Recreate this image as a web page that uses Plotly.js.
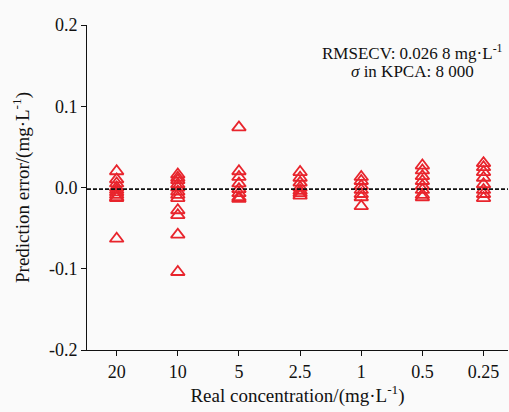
<!DOCTYPE html>
<html>
<head>
<meta charset="utf-8">
<script src="https://cdn.plot.ly/plotly-3.0.1.min.js"></script>
<style>html,body{margin:0;padding:0;background:#fafafa;}</style>
</head>
<body>
<div id="chart" style="width:509px;height:412px;"></div>
<script>
const categories = ["20", "10", "5", "2.5", "1", "0.5", "0.25"];
const err20 = [0.020, 0.010, 0.005, 0.000, -0.003, -0.006, -0.009, -0.012, -0.013, -0.063];
const err10 = [0.016, 0.012, 0.009, 0.004, 0.000, -0.005, -0.009, -0.013, -0.028, -0.034, -0.058, -0.104];
const err5 = [0.074, 0.020, 0.013, 0.005, -0.002, -0.007, -0.012, -0.014];
const err2_5 = [0.019, 0.012, 0.006, 0.000, -0.004, -0.007, -0.010];
const err1 = [0.013, 0.008, 0.002, -0.003, -0.008, -0.012, -0.023];
const err0_5 = [0.027, 0.021, 0.014, 0.008, 0.002, -0.003, -0.009, -0.012];
const err0_25 = [0.030, 0.025, 0.019, 0.012, 0.004, -0.003, -0.008, -0.013];
const meanLine = -0.002;
const yTickVals = [-0.2, -0.1, 0.0, 0.1, 0.2];
const yTickText = ["-0.2", "-0.1", "0.0", "0.1", "0.2"];

const groups = [err20, err10, err5, err2_5, err1, err0_5, err0_25];
const xs = [], ys = [];
groups.forEach((g, i) => g.forEach(v => { xs.push(categories[i]); ys.push(v); }));

const font = "Liberation Serif";
const traces = [
  {
    x: [-0.485, 6.4], y: [meanLine, meanLine], xaxis: 'x2', type: 'scatter', mode: 'lines',
    line: {color: '#111', width: 1.6, dash: '4px,2px'}, hoverinfo: 'skip', showlegend: false
  },
  {
    x: xs, y: ys, type: 'scatter', mode: 'markers',
    marker: {symbol: 'triangle-up-open', size: 12, color: '#e8242c', line: {width: 1.8, color: '#e8242c'}},
    showlegend: false
  }
];
const layout = {
  width: 509, height: 412,
  margin: {l: 87, r: 1, t: 25, b: 62},
  paper_bgcolor: '#fafafa', plot_bgcolor: '#fafafa',
  font: {family: font, size: 18, color: '#111'},
  xaxis: {
    type: 'category', categoryorder: 'array', categoryarray: categories,
    range: [-0.485, 6.4], showgrid: false, zeroline: false,
    showline: true, linecolor: '#111', linewidth: 1,
    ticks: 'outside', ticklen: 5, tickcolor: '#111',
    tickfont: {family: font, size: 18},
    title: {text: 'Real concentration/(mg·L<sup>-1</sup>)', font: {family: font, size: 19}, standoff: 8}
  },
  xaxis2: {overlaying: 'x', range: [-0.485, 6.4], visible: false},
  yaxis: {
    range: [-0.2, 0.2], showgrid: false, zeroline: false,
    showline: true, linecolor: '#111', linewidth: 1,
    ticks: 'outside', ticklen: 5, tickcolor: '#111',
    tickvals: yTickVals, ticktext: yTickText,
    tickfont: {family: font, size: 18},
    title: {text: 'Prediction error/(mg·L<sup>-1</sup>)', font: {family: font, size: 19}, standoff: 14}
  },
  annotations: [
    {xref: 'paper', yref: 'paper', x: 0.774, y: 0.917, xanchor: 'center', yanchor: 'middle', showarrow: false,
     text: 'RMSECV: 0.026 8 mg·L<sup>-1</sup>', font: {family: font, size: 17}},
    {xref: 'paper', yref: 'paper', x: 0.774, y: 0.857, xanchor: 'center', yanchor: 'middle', showarrow: false,
     text: '<i>σ</i> in KPCA: 8 000', font: {family: font, size: 17}}
  ]
};
Plotly.newPlot('chart', traces, layout, {displayModeBar: false, staticPlot: true});
</script>
</body>
</html>
